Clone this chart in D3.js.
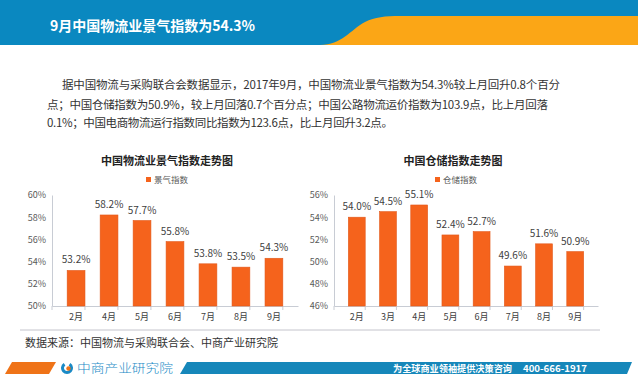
<!DOCTYPE html>
<html lang="zh">
<head>
<meta charset="UTF-8" />
<script src="https://d3js.org/d3.v7.min.js"></script>
<title>9月中国物流业景气指数</title>
<style>
  body { margin: 0; background: #fff; }
  text { font-family: "Noto Sans CJK SC", "Noto Sans", sans-serif; }
</style>
</head>
<body>
<script>
// data
var months1 = ["2月", "4月", "5月", "6月", "7月", "8月", "9月"];
var lpiValues = [53.2, 58.2, 57.7, 55.8, 53.8, 53.5, 54.3];
var lpiTicks = [50, 52, 54, 56, 58, 60];

var months2 = ["2月", "3月", "4月", "5月", "6月", "7月", "8月", "9月"];
var storageValues = [54.0, 54.5, 55.1, 52.4, 52.7, 49.6, 51.6, 50.9];
var storageTicks = [46, 48, 50, 52, 54, 56];

var width = 640, height = 376;
var orange = "#f5631c";

var svg = d3.select("body").append("svg")
    .attr("width", width)
    .attr("height", height);

// header band
svg.append("rect").attr("x", 0).attr("y", 0).attr("width", 638).attr("height", 45).attr("fill", "#0a88c0");
svg.append("path")
    .attr("d", "M320,45 C342,45 350,30 365,22 C375,17 385,16 400,16 L638,16 L638,45 Z")
    .attr("fill", "#fba616");
svg.append("text").attr("x", 50).attr("y", 31)
    .attr("fill", "#fff").attr("font-size", 14).attr("font-weight", "bold")
    .text("9月中国物流业景气指数为54.3%");

// paragraph
var para = [
    { x: 62, y: 89, w: 498, t: "据中国物流与采购联合会数据显示，2017年9月，中国物流业景气指数为54.3%较上月回升0.8个百分" },
    { x: 47, y: 109, w: 501, t: "点；中国仓储指数为50.9%，较上月回落0.7个百分点；中国公路物流运价指数为103.9点，比上月回落" },
    { x: 47, y: 127, w: 346, t: "0.1%；中国电商物流运行指数同比指数为123.6点，比上月回升3.2点。" }
];
svg.selectAll(".para").data(para).enter().append("text")
    .attr("class", "para")
    .attr("x", d => d.x).attr("y", d => d.y)
    .attr("font-size", 11.5).attr("fill", "#333")
    .attr("textLength", d => d.w).attr("lengthAdjust", "spacing")
    .text(d => d.t);

function drawChart(cfg) {
    var g = svg.append("g");

    var x = d3.scaleBand().domain(cfg.cats).range([cfg.x0, cfg.x1]).padding(0.46);
    var y = d3.scaleLinear().domain([cfg.ticks[0], cfg.ticks[cfg.ticks.length - 1]]).range([cfg.yBottom, cfg.yTop]);

    g.append("text").attr("x", cfg.titleX).attr("y", 165)
        .attr("text-anchor", "middle").attr("font-size", 11).attr("font-weight", "bold").attr("fill", "#222")
        .text(cfg.title);
    g.append("rect").attr("x", cfg.legendX).attr("y", 177).attr("width", 5).attr("height", 5).attr("fill", orange);
    g.append("text").attr("x", cfg.legendX + 8).attr("y", 182.5)
        .attr("font-size", 8.5).attr("fill", "#595959").text(cfg.legend);

    // y axis
    var yAxis = g.append("g").attr("transform", "translate(" + cfg.x0 + ",0)")
        .call(d3.axisLeft(y).tickValues(cfg.ticks).tickFormat(d => d + "%").tickSize(0).tickPadding(6));
    yAxis.select(".domain").attr("stroke", "#c8ccd4");
    yAxis.selectAll("text").attr("font-size", 9).attr("fill", "#595959")
        .style("font-family", "'Noto Sans CJK SC', sans-serif");

    // x axis
    var xAxis = g.append("g").attr("transform", "translate(0," + cfg.yBottom + ")")
        .call(d3.axisBottom(x).tickSize(0).tickPadding(8));
    xAxis.select(".domain").attr("stroke", "#c8ccd4");
    xAxis.selectAll("text").attr("font-size", 9).attr("fill", "#404040")
        .style("font-family", "'Noto Sans CJK SC', sans-serif");
    // boundary ticks
    var step = x.step();
    g.selectAll(".btick").data(d3.range(cfg.cats.length + 1)).enter().append("line")
        .attr("x1", i => cfg.x0 + i * step).attr("x2", i => cfg.x0 + i * step)
        .attr("y1", cfg.yBottom).attr("y2", cfg.yBottom + 4)
        .attr("stroke", "#c8ccd4");

    // bars
    g.selectAll(".bar").data(cfg.values).enter().append("rect")
        .attr("x", (d, i) => x(cfg.cats[i]))
        .attr("y", d => y(d))
        .attr("width", x.bandwidth())
        .attr("height", d => cfg.yBottom - y(d))
        .attr("fill", orange)
        .attr("stroke", "#e2581a").attr("stroke-width", 0.6);

    g.selectAll(".lbl").data(cfg.values).enter().append("text")
        .attr("x", (d, i) => x(cfg.cats[i]) + x.bandwidth() / 2)
        .attr("y", d => y(d) - 7)
        .attr("text-anchor", "middle").attr("font-size", 10).attr("fill", "#404040")
        .text(d => d.toFixed(1) + "%");
}

drawChart({
    cats: months1, values: lpiValues, ticks: lpiTicks,
    x0: 52, x1: 298, yTop: 195, yBottom: 306,
    title: "中国物流业景气指数走势图", titleX: 167, legendX: 146, legend: "景气指数"
});
drawChart({
    cats: months2, values: storageValues, ticks: storageTicks,
    x0: 334, x1: 598, yTop: 195, yBottom: 306,
    title: "中国仓储指数走势图", titleX: 453, legendX: 435, legend: "仓储指数"
});

// separator + source
svg.append("line").attr("x1", 20).attr("x2", 600).attr("y1", 330).attr("y2", 330)
    .attr("stroke", "#c4c4cc").attr("stroke-width", 1);
svg.append("text").attr("x", 25).attr("y", 347)
    .attr("font-size", 11).attr("fill", "#333")
    .text("数据来源：中国物流与采购联合会、中商产业研究院");

// footer bar
svg.append("path").attr("d", "M5,374 L12,362 L56,362 L49,374 Z").attr("fill", "#ef7318");
svg.append("path").attr("d", "M180,374 L187,362 L632,362 L627,374 Z").attr("fill", "#1687ba");
// logo
svg.append("path").attr("d", d3.arc()({ innerRadius: 3, outerRadius: 6, startAngle: 0.6, endAngle: 5.7 }))
    .attr("transform", "translate(67,368)").attr("fill", "#1a8ac6");
svg.append("circle").attr("cx", 68.5).attr("cy", 368.5).attr("r", 2.2).attr("fill", "#ef7318");
svg.append("text").attr("x", 77).attr("y", 372.5)
    .attr("font-size", 12).attr("font-weight", 300).attr("fill", "#1a8ac6")
    .attr("textLength", 96).attr("lengthAdjust", "spacingAndGlyphs")
    .text("中商产业研究院");
svg.append("text").attr("x", 393).attr("y", 371.5)
    .attr("font-size", 9.5).attr("font-weight", "bold").attr("fill", "#fff")
    .attr("textLength", 119).attr("lengthAdjust", "spacingAndGlyphs")
    .text("为全球商业领袖提供决策咨询");
svg.append("text").attr("x", 523).attr("y", 371.5)
    .attr("font-size", 9.5).attr("font-weight", "bold").attr("fill", "#fff")
    .attr("textLength", 64).attr("lengthAdjust", "spacingAndGlyphs")
    .text("400-666-1917");
</script>
</body>
</html>
